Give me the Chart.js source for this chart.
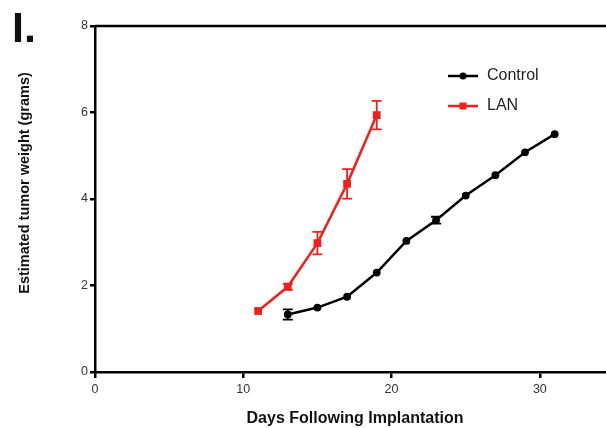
<!DOCTYPE html>
<html>
<head>
<meta charset="utf-8">
<script src="https://cdn.jsdelivr.net/npm/chart.js@4"></script>
<style>
  html, body { margin: 0; padding: 0; background: #fff; overflow: hidden; }
  #wrap { width: 620px; height: 428px; }
</style>
</head>
<body>
<div id="wrap"><canvas id="tumorChart"></canvas></div>
<script>
// days after implantation
const controlDays = [13, 15, 17, 19, 21, 23, 25, 27, 29, 31];
const controlWeight = [1.33, 1.49, 1.74, 2.30, 3.03, 3.51, 4.08, 4.55, 5.08, 5.50];
const controlErr = [0.12, 0.04, 0.04, 0.04, 0.04, 0.08, 0.04, 0.04, 0.03, 0.03];

const lanDays = [11, 13, 15, 17, 19];
const lanWeight = [1.41, 1.97, 2.98, 4.35, 5.94];
const lanErr = [0.03, 0.07, 0.26, 0.34, 0.33];

const xTicks = [0, 10, 20, 30];
const yTicks = [0, 2, 4, 6, 8];

const FONT = "'Liberation Sans', Arial, sans-serif";

// draws SEM error bars, the top frame line, legend, titles and the panel letter
const extrasPlugin = {
  id: "extras",
  afterDatasetsDraw(chart) {
    const { ctx, chartArea, scales } = chart;
    const xs = scales.x, ys = scales.y;
    ctx.save();
    chart.data.datasets.forEach((ds) => {
      ctx.strokeStyle = ds.borderColor;
      ctx.lineWidth = 1.8;
      ds.data.forEach((p, i) => {
        const e = ds.errors[i];
        if (!e || e < 0.06) return;
        const px = xs.getPixelForValue(p.x);
        const top = ys.getPixelForValue(p.y + e);
        const bot = ys.getPixelForValue(p.y - e);
        ctx.beginPath();
        ctx.moveTo(px, top); ctx.lineTo(px, bot);
        ctx.moveTo(px - 5, top); ctx.lineTo(px + 5, top);
        ctx.moveTo(px - 5, bot); ctx.lineTo(px + 5, bot);
        ctx.stroke();
      });
    });

    // top frame line
    ctx.strokeStyle = "#000";
    ctx.lineWidth = 2.5;
    ctx.beginPath();
    ctx.moveTo(chartArea.left, chartArea.top);
    ctx.lineTo(chartArea.right + 10, chartArea.top);
    ctx.stroke();

    // legend
    const legendY = [76, 106];
    chart.data.datasets.forEach((ds, i) => {
      const y = legendY[i];
      ctx.strokeStyle = ds.borderColor;
      ctx.fillStyle = ds.borderColor;
      ctx.lineWidth = 2.5;
      ctx.beginPath();
      ctx.moveTo(448, y); ctx.lineTo(478, y);
      ctx.stroke();
      if (ds.pointStyle === "rect") {
        ctx.fillRect(459.5, y - 3.5, 7, 7);
      } else {
        ctx.beginPath();
        ctx.arc(463, y, 3.5, 0, Math.PI * 2);
        ctx.fill();
      }
      ctx.fillStyle = "#222";
      ctx.font = "16px " + FONT;
      ctx.textBaseline = "middle";
      ctx.textAlign = "left";
      ctx.fillText(ds.label, 487, y);
    });

    // axis titles
    ctx.fillStyle = "#111";
    ctx.font = "bold 16px " + FONT;
    ctx.textAlign = "center";
    ctx.textBaseline = "alphabetic";
    ctx.fillText("Days Following Implantation", 355, 423);

    ctx.save();
    ctx.translate(29, 183);
    ctx.rotate(-Math.PI / 2);
    ctx.font = "bold 14.5px " + FONT;
    ctx.fillText("Estimated tumor weight (grams)", 0, 0);
    ctx.restore();

    // panel letter
    ctx.font = "bold 43px " + FONT;
    ctx.textAlign = "left";
    ctx.fillStyle = "#111";
    ctx.fillText("I.", 12, 42);
    ctx.restore();
  }
};

const toPoints = (xs, ys) => xs.map((x, i) => ({ x, y: ys[i] }));

new Chart(document.getElementById("tumorChart"), {
  type: "line",
  data: {
    datasets: [
      {
        label: "Control",
        data: toPoints(controlDays, controlWeight),
        errors: controlErr,
        borderColor: "#000",
        backgroundColor: "#000",
        borderWidth: 2.5,
        pointStyle: "circle",
        pointRadius: 3.9,
        pointBorderWidth: 0,
        tension: 0
      },
      {
        label: "LAN",
        data: toPoints(lanDays, lanWeight),
        errors: lanErr,
        borderColor: "#f0211c",
        backgroundColor: "#f0211c",
        borderWidth: 2.5,
        pointStyle: "rect",
        pointRadius: 5.5,
        pointBorderWidth: 0,
        tension: 0
      }
    ]
  },
  options: {
    responsive: true,
    maintainAspectRatio: false,
    animation: false,
    layout: { padding: { left: 0, top: 26, right: 6, bottom: 0 } },
    plugins: { legend: { display: false }, tooltip: { enabled: false } },
    scales: {
      x: {
        type: "linear",
        min: 0,
        max: 35,
        afterFit: (s) => { s.height = 56; },
        afterBuildTicks: (s) => { s.ticks = xTicks.map(v => ({ value: v })); },
        border: { display: true, color: "#000", width: 2.5 },
        grid: { display: true, drawOnChartArea: false, drawTicks: true, tickLength: 6, color: "#000", lineWidth: 2.5 },
        ticks: { color: "#333", font: { family: FONT, size: 12.5 }, padding: 4, maxRotation: 0 }
      },
      y: {
        min: 0,
        max: 8,
        afterFit: (s) => { s.width = 95; },
        afterBuildTicks: (s) => { s.ticks = yTicks.map(v => ({ value: v })); },
        border: { display: true, color: "#000", width: 2.5 },
        grid: { display: true, drawOnChartArea: false, drawTicks: true, tickLength: 5, color: "#000", lineWidth: 2.5 },
        ticks: { color: "#333", font: { family: FONT, size: 12.5 }, padding: 2 }
      }
    }
  },
  plugins: [extrasPlugin]
});
</script>
</body>
</html>
